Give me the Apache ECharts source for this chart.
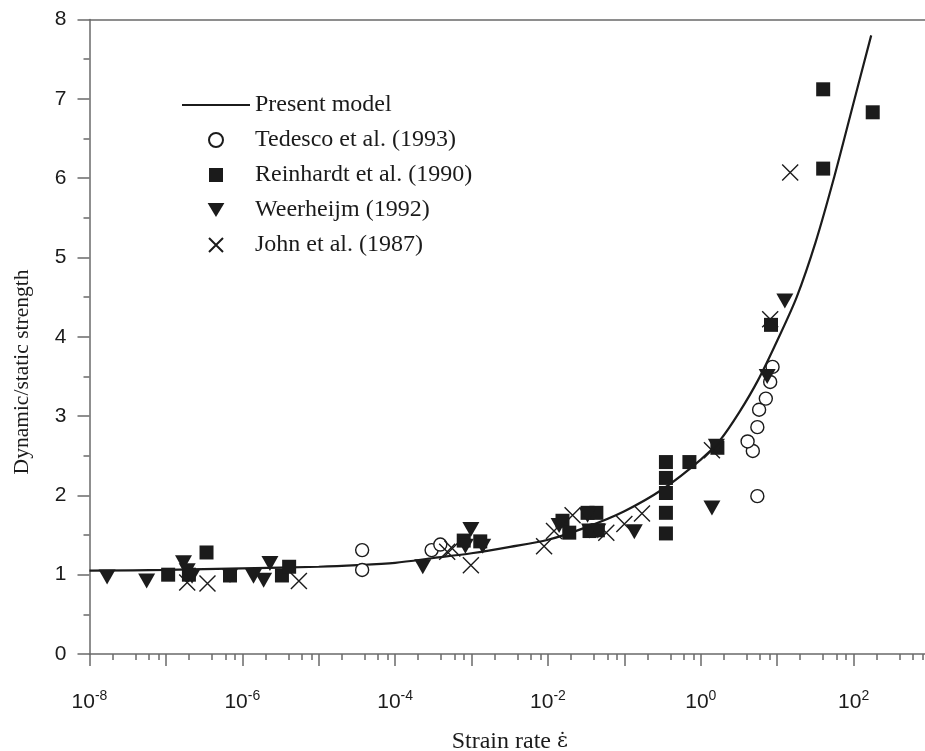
<!DOCTYPE html>
<html>
<head>
<meta charset="utf-8">
<script src="https://cdn.jsdelivr.net/npm/echarts@6/dist/echarts.min.js"></script>
<style>
  html, body { margin: 0; padding: 0; background: #fff; }
  #chart { width: 925px; height: 751px; }
</style>
</head>
<body>
<div id="chart"></div>
<script>
// Present model curve: [strain rate, dynamic/static strength]
const modelCurve = [
  [1e-8, 1.05], [1e-7, 1.06], [1e-6, 1.08], [1e-5, 1.10], [3.2e-5, 1.12],
  [1e-4, 1.15], [3.2e-4, 1.21], [1e-3, 1.27], [3.2e-3, 1.35], [1e-2, 1.44],
  [3.2e-2, 1.60], [0.1, 1.80], [0.32, 2.08], [1, 2.45], [1.8, 2.70],
  [3.2, 3.05], [5.6, 3.45], [10, 3.95], [18, 4.50], [32, 5.20],
  [56, 6.02], [100, 6.95], [170, 7.80]
];

// Tedesco et al. (1993)
const tedesco = [
  [3.7e-5, 1.31], [3.7e-5, 1.06], [3.0e-4, 1.31], [3.9e-4, 1.38],
  [5.5, 1.99], [4.8, 2.56], [4.1, 2.68], [5.5, 2.86], [5.8, 3.08],
  [7.1, 3.22], [8.1, 3.43], [8.7, 3.62]
];

// Reinhardt et al. (1990)
const reinhardt = [
  [1.07e-7, 1.00], [2.0e-7, 1.00], [3.4e-7, 1.28], [6.9e-7, 0.99],
  [3.3e-6, 0.99], [4.1e-6, 1.10], [7.9e-4, 1.43], [1.3e-3, 1.42],
  [1.55e-2, 1.68], [1.9e-2, 1.53], [3.3e-2, 1.78], [4.3e-2, 1.78],
  [3.5e-2, 1.55], [4.5e-2, 1.56],
  [0.35, 2.42], [0.35, 2.22], [0.35, 2.03], [0.35, 1.78], [0.35, 1.52],
  [0.71, 2.42], [1.65, 2.60], [8.3, 4.15], [40, 7.12], [40, 6.12], [178, 6.83]
];

// Weerheijm (1992)
const weerheijm = [
  [1.7e-8, 0.97], [5.6e-8, 0.92], [1.7e-7, 1.15], [1.9e-7, 1.05],
  [2.2e-7, 0.98], [6.9e-7, 0.99], [1.4e-6, 0.98], [1.9e-6, 0.93],
  [2.3e-6, 1.14], [2.3e-4, 1.10], [8.3e-4, 1.36], [9.8e-4, 1.57],
  [1.4e-3, 1.36], [1.4e-2, 1.62], [3.3e-2, 1.75], [3.5e-2, 1.55],
  [4.5e-2, 1.55], [0.135, 1.54], [1.4, 1.84], [1.6, 2.62],
  [7.4, 3.50], [12.6, 4.45]
];

// John et al. (1987)
const john = [
  [1.9e-7, 0.90], [3.5e-7, 0.89], [5.5e-6, 0.92], [4.8e-4, 1.29],
  [5.6e-4, 1.33], [9.8e-4, 1.12], [8.9e-3, 1.36], [1.2e-2, 1.55],
  [2.1e-2, 1.75], [5.8e-2, 1.53], [0.1, 1.64], [0.17, 1.77],
  [1.4, 2.57], [8.1, 4.22], [14.8, 6.07]
];

// Axis ticks
const decadeTicks = [1e-8, 1e-7, 1e-6, 1e-5, 1e-4, 1e-3, 1e-2, 1e-1, 1, 10, 100, 1000];
const xLabelTicks = [1e-8, 1e-6, 1e-4, 1e-2, 1, 100];
const minorMultipliers = [2, 4, 6, 8];
const yTicks = [0, 1, 2, 3, 4, 5, 6, 7, 8];

const minorTicks = [];
decadeTicks.slice(0, -1).forEach(d => minorMultipliers.forEach(m => minorTicks.push(d * m)));

const INK = '#1b1b1b';
const AXIS = '#6a6a6a';
const SERIF = '"Liberation Serif", "Times New Roman", serif';
const SANS = '"Liberation Sans", Arial, sans-serif';

const SQUARE = 'path://M0,0L10,0L10,10L0,10Z';
const TRI_DOWN = 'path://M0,0L12,0L6,10Z';
const CROSS = 'path://M0,0L10,10M10,0L0,10';
const LINE_ICON = 'path://M0,0L68,0L68,2.2L0,2.2Z';

const X_MIN = 1e-8, X_MAX = 1e3;

const chart = echarts.init(document.getElementById('chart'));

chart.setOption({
  animation: false,
  backgroundColor: '#fff',
  grid: {
    left: 89.5, top: 19.5, right: -5, bottom: 97,
    show: false, containLabel: false, outerBoundsMode: 'none'
  },
  legend: {
    orient: 'vertical',
    left: 177, top: 88,
    itemWidth: 68, itemHeight: 14, itemGap: 11,
    textStyle: { fontFamily: SERIF, fontSize: 24, color: INK, lineHeight: 24 },
    data: [
      { name: 'Present model', icon: LINE_ICON },
      { name: 'Tedesco et al. (1993)' },
      { name: 'Reinhardt et al. (1990)' },
      { name: 'Weerheijm (1992)' },
      { name: 'John et al. (1987)' }
    ]
  },
  xAxis: [
    {
      type: 'log', logBase: 10, min: X_MIN, max: X_MAX,
      name: '{a|Strain rate }{e|\u03B5\u0307}', nameLocation: 'middle', nameGap: 76,
      nameTextStyle: {
        fontFamily: SERIF, fontSize: 24, color: INK,
        rich: {
          a: { fontFamily: SERIF, fontSize: 24, color: INK },
          e: { fontFamily: '"DejaVu Serif", serif', fontSize: 21, color: INK }
        }
      },
      axisLine: { show: true, lineStyle: { color: AXIS, width: 1.5 } },
      axisTick: { show: true, customValues: decadeTicks, length: 12, lineStyle: { color: AXIS, width: 1.5 } },
      axisLabel: {
        customValues: xLabelTicks, margin: 35,
        formatter: v => '{b|10}{s|' + Math.round(Math.log10(v)) + '}',
        rich: {
          b: { fontFamily: SANS, fontSize: 21, color: INK, lineHeight: 24, verticalAlign: 'bottom' },
          s: { fontFamily: SANS, fontSize: 14, color: INK, verticalAlign: 'top', lineHeight: 24 }
        }
      },
      splitLine: { show: false }
    },
    {
      type: 'log', logBase: 10, min: X_MIN, max: X_MAX, position: 'bottom',
      axisLine: { show: false },
      axisTick: { show: true, customValues: minorTicks, length: 6, lineStyle: { color: AXIS, width: 1.5 } },
      axisLabel: { show: false },
      splitLine: { show: false }
    },
    {
      // top frame line
      type: 'log', logBase: 10, min: X_MIN, max: X_MAX, position: 'top',
      axisLine: { show: true, lineStyle: { color: AXIS, width: 1.5 } },
      axisTick: { show: false },
      axisLabel: { show: false },
      splitLine: { show: false }
    }
  ],
  yAxis: {
    type: 'value', min: 0, max: 8, interval: 1,
    axisLine: { show: true, lineStyle: { color: AXIS, width: 1.5 } },
    axisTick: { show: true, length: 12, lineStyle: { color: AXIS, width: 1.5 } },
    minorTick: { show: true, splitNumber: 2, length: 6, lineStyle: { color: AXIS, width: 1.5 } },
    axisLabel: {
      margin: 23, fontFamily: SANS, fontSize: 21, color: INK,
      customValues: yTicks
    },
    splitLine: { show: false }
  },
  graphic: [{
    type: 'text', x: 22, y: 372, rotation: Math.PI / 2,
    style: {
      text: 'Dynamic/static strength', fill: INK,
      font: '21.5px "Liberation Serif", "Times New Roman", serif',
      align: 'center', verticalAlign: 'middle',
      textAlign: 'center', textVerticalAlign: 'middle'
    }
  }],
  series: [
    {
      name: 'Present model', type: 'line', data: modelCurve, smooth: 0.3,
      symbol: 'none', lineStyle: { color: INK, width: 2.2 }, itemStyle: { color: INK }, z: 1
    },
    {
      name: 'Tedesco et al. (1993)', type: 'scatter', data: tedesco,
      symbol: 'circle', symbolSize: 13,
      itemStyle: { color: '#fff', borderColor: INK, borderWidth: 1.4, opacity: 1 }, z: 3
    },
    {
      name: 'Reinhardt et al. (1990)', type: 'scatter', data: reinhardt,
      symbol: SQUARE, symbolSize: 14,
      itemStyle: { color: INK, opacity: 1 }, z: 3
    },
    {
      name: 'Weerheijm (1992)', type: 'scatter', data: weerheijm,
      symbol: TRI_DOWN, symbolSize: [17, 15],
      itemStyle: { color: INK, opacity: 1 }, z: 3
    },
    {
      name: 'John et al. (1987)', type: 'scatter', data: john,
      symbol: CROSS, symbolSize: 16,
      itemStyle: { color: 'none', borderColor: INK, borderWidth: 1.4, opacity: 1 }, z: 3
    }
  ]
});
</script>
</body>
</html>
